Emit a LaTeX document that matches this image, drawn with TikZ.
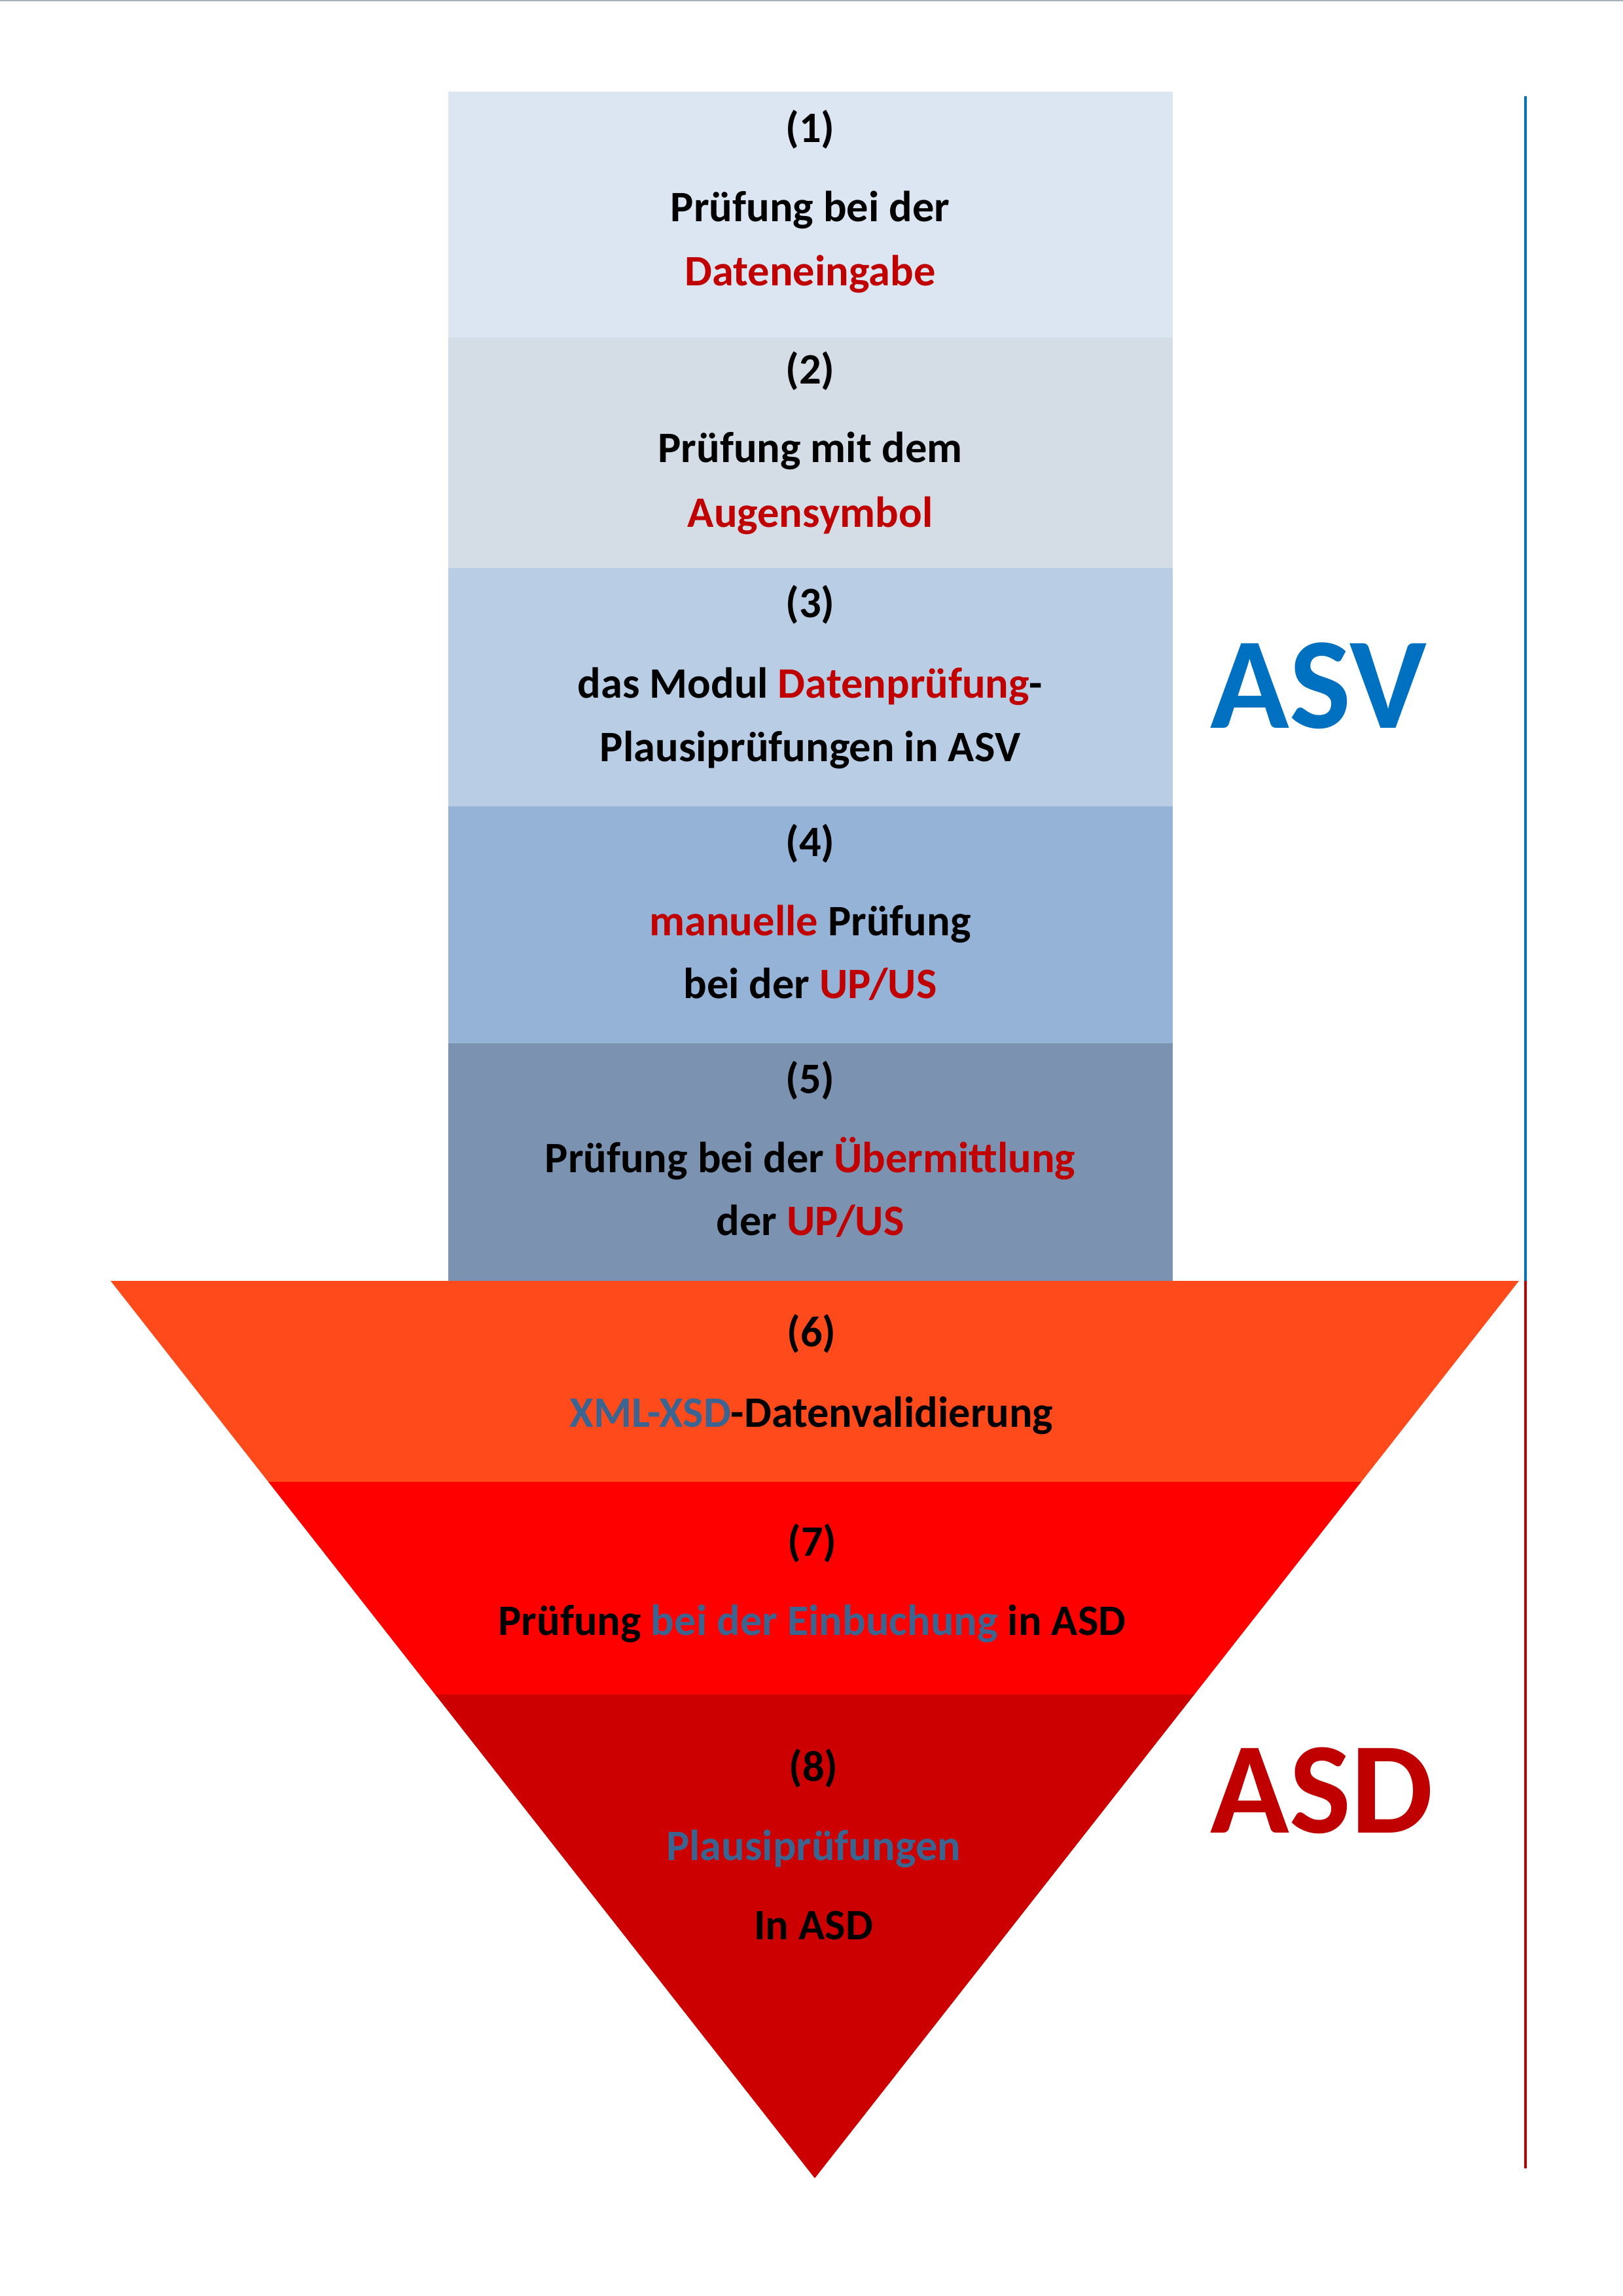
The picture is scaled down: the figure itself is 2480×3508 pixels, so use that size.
\documentclass[tikz,border=0pt]{standalone}
\usepackage{fontspec}
\setmainfont{Carlito}
\definecolor{bandA}{HTML}{DCE6F2}
\definecolor{bandB}{HTML}{D4DCE6}
\definecolor{bandC}{HTML}{B9CDE5}
\definecolor{bandD}{HTML}{95B3D7}
\definecolor{bandE}{HTML}{7B93B1}
\definecolor{bandF}{HTML}{FF4A1C}
\definecolor{bandG}{HTML}{FF0000}
\definecolor{bandH}{HTML}{CC0000}
\definecolor{txtred}{HTML}{C00000}
\definecolor{txtblue}{HTML}{3C6491}
\definecolor{asvblue}{HTML}{0070C0}
\definecolor{topgray}{HTML}{A8B0B8}
\newcommand{\rd}[1]{\textcolor{txtred}{#1}}
\newcommand{\bl}[1]{\textcolor{txtblue}{#1}}
\begin{document}
\begin{tikzpicture}[x=0.0846774mm, y=-0.0846774mm,
  lbl/.style={anchor=base, inner sep=0pt, font=\fontsize{16}{19}\selectfont\bfseries},
  big/.style={anchor=base, inner sep=0pt, font=\fontsize{48}{56}\selectfont\bfseries}]
\useasboundingbox (0,0) rectangle (2480,3508);
\draw[topgray, line width=0.45pt] (0,1) -- (2480,1);
% ASV rectangles
\fill[bandA] (685,140) rectangle (1792,517);
\fill[bandB] (685,516) rectangle (1792,869);
\fill[bandC] (685,868) rectangle (1792,1233);
\fill[bandD] (685,1232) rectangle (1792,1595);
\fill[bandE] (685,1594) rectangle (1792,1958);
% ASD triangle
\begin{scope}
\clip (169,1957) -- (2321,1957) -- (1245,3328) -- cycle;
\fill[bandF] (100,1957) rectangle (2400,2265);
\fill[bandG] (100,2264) rectangle (2400,2590);
\fill[bandH] (100,2589) rectangle (2400,3400);
\end{scope}
% texts
\node[lbl] (n1) at (1238,217) {(1)};
\node[lbl] (t1a) at (1238,338) {Prüfung bei der};
\node[lbl] (t1b) at (1238,436) {\rd{Dateneingabe}};
\node[lbl] (n2) at (1238,586) {(2)};
\node[lbl] (t2a) at (1238,706) {Prüfung mit dem};
\node[lbl] (t2b) at (1238,805) {\rd{Augensymbol}};
\node[lbl] (n3) at (1238,943) {(3)};
\node[lbl] (t3a) at (1238,1066) {das Modul \rd{Datenprüfung}-};
\node[lbl] (t3b) at (1238,1163) {Plausiprüfungen in ASV};
\node[lbl] (n4) at (1238,1308) {(4)};
\node[lbl] (t4a) at (1238,1429) {\rd{manuelle} Prüfung};
\node[lbl] (t4b) at (1238,1525) {bei der \rd{UP/US}};
\node[lbl] (n5) at (1238,1670) {(5)};
\node[lbl] (t5a) at (1238,1791) {Prüfung bei der \rd{Übermittlung}};
\node[lbl] (t5b) at (1238,1887) {der \rd{UP/US}};
\node[lbl] (n6) at (1240,2057) {(6)};
\node[lbl] (t6a) at (1240,2180) {\bl{XML-XSD}-Datenvalidierung};
\node[lbl] (n7) at (1241,2377) {(7)};
\node[lbl] (t7a) at (1241,2498) {Prüfung \bl{bei der Einbuchung} in ASD};
\node[lbl] (n8) at (1243,2721) {(8)};
\node[lbl] (t8a) at (1243,2842) {\bl{Plausiprüfungen}};
\node[lbl] (t8b) at (1243,2963) {In ASD};
\node[big, asvblue] (asv) at (2015,1112) {ASV};
\node[big, txtred] (asd) at (2020,2800) {ASD};
% side line
\coordinate (ltop) at (2331,147);
\coordinate (lmid) at (2331,1957);
\coordinate (lbot) at (2331,3313);
\draw[asvblue, line width=1.1pt] (ltop) -- (lmid);
\draw[txtred, line width=1.1pt] (lmid) -- (lbot);
\end{tikzpicture}
\end{document}
